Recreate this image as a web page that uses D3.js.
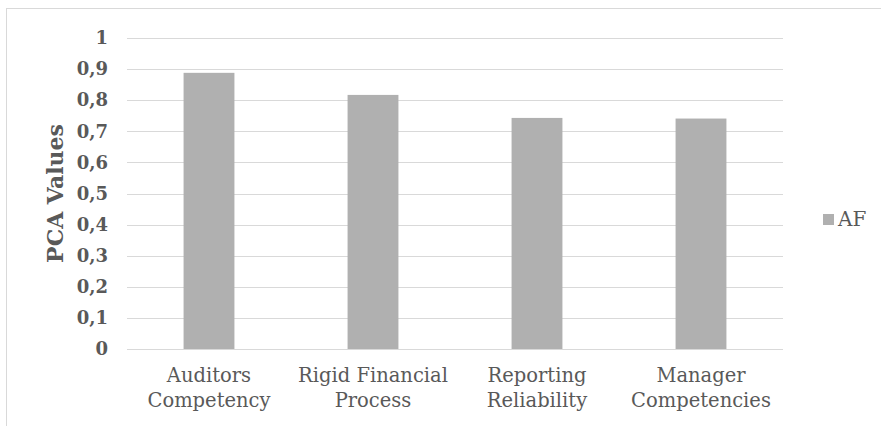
<!DOCTYPE html>
<html>
<head>
<meta charset="utf-8">
<script src="https://cdn.jsdelivr.net/npm/d3@7"></script>
<style>
  html, body { margin: 0; padding: 0; background: #fff; }
  svg { display: block; }
  text { font-family: "DejaVu Serif", "Liberation Serif", serif; fill: #595959; }
</style>
</head>
<body>
<svg id="chart" width="881" height="426"></svg>
<script>
// PCA values per factor, series "AF"
const categories = [
  ["Auditors", "Competency"],
  ["Rigid Financial", "Process"],
  ["Reporting", "Reliability"],
  ["Manager", "Competencies"]
];
const seriesName = "AF";
const values = [0.888, 0.817, 0.743, 0.741];
const yTicks = [0, 0.1, 0.2, 0.3, 0.4, 0.5, 0.6, 0.7, 0.8, 0.9, 1];

const svg = d3.select("#chart");
const plot = { left: 127, right: 783, top: 38, bottom: 349 };
const barColor = "#b0b0b0";
const gridColor = "#d9d9d9";

// chart frame
svg.append("rect")
  .attr("x", 6.5).attr("y", 8.5)
  .attr("width", 1000).attr("height", 1000)
  .attr("fill", "none").attr("stroke", gridColor).attr("stroke-width", 1);

const keys = categories.map(c => c.join(" "));
const x = d3.scaleBand().domain(keys)
  .range([plot.left, plot.right])
  .paddingInner(0.69).paddingOuter(0.345);
const y = d3.scaleLinear().domain([0, 1]).range([plot.bottom, plot.top]);

// horizontal gridlines
svg.append("g")
  .selectAll("line")
  .data(yTicks)
  .join("line")
  .attr("x1", plot.left).attr("x2", plot.right)
  .attr("y1", d => Math.round(y(d)) + 0.5).attr("y2", d => Math.round(y(d)) + 0.5)
  .attr("stroke", gridColor).attr("stroke-width", 1);

// y axis labels
const fmt = d => d3.format(".1~f")(d).replace(".", ",");
const yAxis = svg.append("g")
  .attr("transform", `translate(${plot.left - 19},0)`)
  .call(d3.axisLeft(y).tickValues(yTicks).tickFormat(fmt).tickSize(0).tickPadding(0));
yAxis.select(".domain").remove();
yAxis.selectAll("text")
  .attr("font-family", null)
  .style("font-size", "18px").style("font-weight", "bold").attr("fill", "#595959");

// bars
svg.append("g")
  .selectAll("rect")
  .data(values)
  .join("rect")
  .attr("x", (d, i) => x(keys[i]))
  .attr("width", x.bandwidth())
  .attr("y", d => y(d))
  .attr("height", d => y(0) - y(d))
  .attr("fill", barColor);

// x category labels (two lines)
const xl = svg.append("g");
categories.forEach((lines, i) => {
  const cx = x(keys[i]) + x.bandwidth() / 2;
  const t = xl.append("text")
    .attr("x", cx)
    .attr("y", 381.5)
    .attr("text-anchor", "middle")
    .style("font-size", "19.5px");
  lines.forEach((s, j) => {
    t.append("tspan").attr("x", cx)
      .attr("dy", j === 0 ? 0 : 25).text(s);
  });
});

// y axis title
svg.append("text")
  .attr("transform", `translate(63,${(plot.top + plot.bottom) / 2}) rotate(-90)`)
  .attr("text-anchor", "middle")
  .style("font-size", "22px").style("font-weight", "bold")
  .text("PCA Values");

// legend
const lg = svg.append("g");
lg.append("rect").attr("x", 823).attr("y", 214).attr("width", 11).attr("height", 11).attr("fill", barColor);
lg.append("text").attr("x", 838).attr("y", 226).style("font-size", "20px").text(seriesName);
</script>
</body>
</html>
